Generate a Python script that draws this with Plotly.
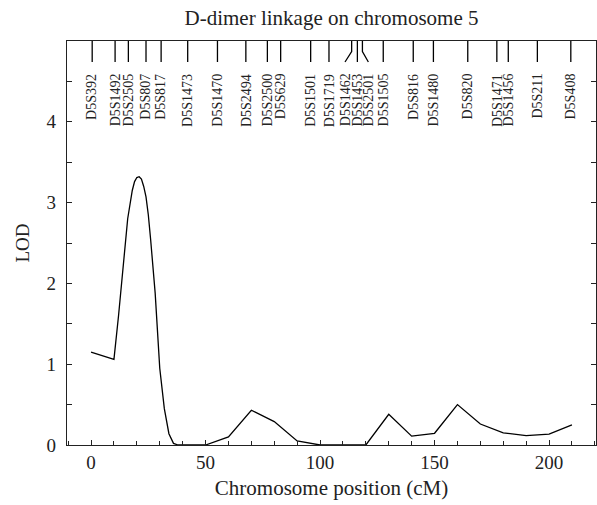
import plotly.graph_objects as go

# LOD profile
position_cM = [0, 10, 12, 14, 16, 18, 19, 20, 21, 22, 23, 24, 25, 26, 27, 28, 30, 32, 34, 36, 38,
               50, 60, 70, 80, 90, 100, 110, 120, 130, 140, 150, 160, 170, 180, 190, 200, 210]
lod = [1.15, 1.06, 1.60, 2.25, 2.80, 3.15, 3.26, 3.31, 3.32, 3.29, 3.20, 3.07, 2.85, 2.55, 2.25, 1.88,
       0.95, 0.45, 0.14, 0.02, 0.0,
       0.0, 0.10, 0.43, 0.29, 0.05, 0.0, 0.0, 0.0, 0.38, 0.11, 0.145, 0.50, 0.26, 0.15, 0.115, 0.135, 0.25]

# Markers
marker_names = ["D5S392", "D5S1492", "D5S2505", "D5S807", "D5S817", "D5S1473", "D5S1470", "D5S2494",
                "D5S2500", "D5S629", "D5S1501", "D5S1719", "D5S1462", "D5S1453", "D5S2501", "D5S1505",
                "D5S816", "D5S1480", "D5S820", "D5S1471", "D5S1456", "D5S211", "D5S408"]
marker_pos = [0.5, 10.5, 16.3, 24.0, 30.6, 42.2, 55.2, 67.6, 77.0, 82.8, 95.9, 103.9, 113.8, 116.3,
              118.5, 127.6, 140.7, 149.5, 164.5, 177.2, 182.2, 194.9, 209.5]
marker_label_pos = [0.5, 10.5, 16.3, 24.0, 30.6, 42.2, 55.2, 67.6, 77.0, 82.8, 95.9, 103.9, 110.9, 116.3,
                    121.1, 127.6, 140.7, 149.5, 164.5, 177.2, 182.2, 194.9, 209.5]

x_ticks = [0, 50, 100, 150, 200]
y_ticks = [0, 1, 2, 3, 4]

FONT = "Liberation Serif"
INK = "#222"

fig = go.Figure()

fig.add_trace(go.Scatter(x=position_cM, y=lod, mode="lines",
                         line=dict(color="black", width=1.3), hoverinfo="skip", showlegend=False))

# marker tick lines from the top frame
lx, ly = [], []
top, bend, end = 5.0, 4.87, 4.74
for p, lp in zip(marker_pos, marker_label_pos):
    if abs(p - lp) > 0.01:
        lx += [p, p, lp, None]
        ly += [top, bend, end, None]
    else:
        lx += [p, p, None]
        ly += [top, end, None]
fig.add_trace(go.Scatter(x=lx, y=ly, mode="lines", line=dict(color="black", width=1.3),
                         hoverinfo="skip", showlegend=False))

for name, lp in zip(marker_names, marker_label_pos):
    fig.add_annotation(x=lp, y=4.62, text=name, textangle=-90, showarrow=False,
                       xanchor="center", yanchor="top",
                       font=dict(family=FONT, size=14, color=INK))

fig.update_layout(
    width=597, height=505,
    margin=dict(l=67, r=1, t=41, b=60, autoexpand=False),
    paper_bgcolor="white", plot_bgcolor="white",
    font=dict(family=FONT, size=19, color=INK),
    title=dict(text="D-dimer linkage on chromosome 5", x=0.5, xref="paper", xanchor="center",
               y=1 - 18 / 505, yref="container", yanchor="middle",
               font=dict(family=FONT, size=21, color=INK)),
    showlegend=False,
    hovermode=False,
)
fig.update_xaxes(range=[-10.5, 220.5], tickvals=x_ticks, ticks="inside", ticklen=5,
                 tickcolor=INK, tickwidth=1.2, automargin=False,
                 minor=dict(dtick=10, tick0=0, ticks="inside", ticklen=4, tickcolor=INK, tickwidth=1.2),
                 showline=True, linecolor=INK, linewidth=1.3, mirror=True,
                 showgrid=False, zeroline=False,
                 title=dict(text="Chromosome position (cM)", standoff=8,
                            font=dict(family=FONT, size=21, color=INK)),
                 tickfont=dict(family=FONT, size=19, color=INK))
fig.update_yaxes(range=[0, 5], tickvals=y_ticks, ticks="inside", ticklen=5,
                 tickcolor=INK, tickwidth=1.2, automargin=False, ticklabelstandoff=6,
                 minor=dict(dtick=0.5, tick0=0, ticks="inside", ticklen=5, tickcolor=INK, tickwidth=1.2),
                 showline=True, linecolor=INK, linewidth=1.3, mirror="ticks",
                 showgrid=False, zeroline=False,
                 title=dict(text="LOD", standoff=11, font=dict(family=FONT, size=19, color=INK)),
                 tickfont=dict(family=FONT, size=19, color=INK))

fig.write_html("out.html", config={"displayModeBar": False},
               post_script="document.body.style.margin='0px';")
